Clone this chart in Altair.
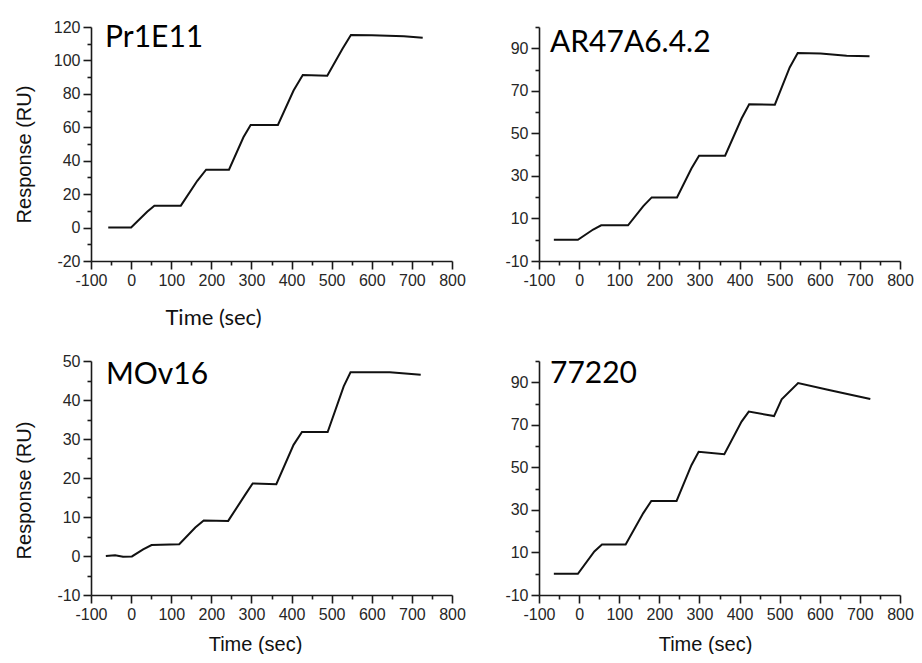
import altair as alt
import pandas as pd

# ---------------- data ----------------
pr1e11_t = [-57, 0, 40, 58, 124, 165, 187, 244, 280, 298, 366, 405, 428, 489, 527, 548, 600, 680, 727]
pr1e11_r = [0, 0, 9.5, 13.1, 13.1, 28, 34.6, 34.6, 54, 61.4, 61.4, 82, 91.3, 90.8, 107, 115.2, 115, 114.5, 113.5]

ar47_t = [-63, -3, 35, 55, 122, 160, 181, 244, 280, 299, 364, 405, 424, 488, 525, 545, 602, 667, 724]
ar47_r = [0, 0, 4.8, 6.8, 6.8, 15.8, 19.9, 19.9, 33.5, 39.5, 39.5, 57, 63.7, 63.5, 81, 87.8, 87.5, 86.5, 86.2]

mov16_t = [-63, -40, -20, 2, 30, 51, 120, 160, 181, 242, 285, 303, 362, 405, 426, 490, 530, 547, 645, 722]
mov16_r = [0, 0.2, -0.2, -0.1, 1.7, 2.8, 3.0, 7.3, 9.1, 9.0, 15.8, 18.6, 18.4, 28.5, 31.8, 31.8, 43.5, 47.1, 47.1, 46.5]

m77220_t = [-63, -3, 38, 57, 116, 160, 180, 243, 280, 298, 362, 405, 423, 486, 505, 546, 620, 680, 726]
m77220_r = [0, 0, 10.5, 13.7, 13.7, 28.5, 34.2, 34.2, 51, 57.3, 56.2, 71.5, 76.2, 74.1, 82, 89.6, 86.5, 84, 82.1]

names = ["Pr1E11", "AR47A6.4.2", "MOv16", "77220"]
x_ticks = list(range(-100, 801, 50))

W, H = 361, 234
AX = "#1a1a1a"


def make_panel(name, t, r, ydom, ystep, label_test, ytitle, xtitle, xtitle_font, xtitle_size,
               xtitle_x, xtitle_y, ytitle_y, lab_x, lab_y):
    df = pd.DataFrame({"t": t, "r": r})
    yvals = list(range(ydom[0], ydom[1] + 1, ystep))
    x_axis = alt.Axis(
        values=x_ticks,
        labelExpr="datum.value % 100 === 0 ? '' + datum.value : ''",
        tickSize={"condition": {"test": "datum.value % 100 === 0", "value": 8}, "value": 4},
        title=xtitle,
        titleFont=xtitle_font,
        titleFontSize=xtitle_size,
        titleX=xtitle_x,
        titleY=xtitle_y,
        labelPadding=3,
        labelFlush=False,
        labelOverlap=False,
    )
    y_axis = alt.Axis(
        values=yvals,
        labelExpr=f"{label_test} ? '' + datum.value : ''",
        tickSize={"condition": {"test": label_test, "value": 8}, "value": 4},
        title=ytitle,
        titleX=-57,
        titleY=ytitle_y,
        labelPadding=3,
        labelFlush=False,
        labelOverlap=False,
    )
    line = alt.Chart(df).mark_line(color="#111111", strokeWidth=2).encode(
        x=alt.X("t:Q", scale=alt.Scale(domain=[-100, 800], nice=False, zero=False), axis=x_axis),
        y=alt.Y("r:Q", scale=alt.Scale(domain=ydom, nice=False, zero=False), axis=y_axis),
    )
    lab = alt.Chart(pd.DataFrame({"label": [name]})).mark_text(
        align="left", baseline="alphabetic", font="Lato", fontSize=30, color="#000000"
    ).encode(x=alt.value(lab_x), y=alt.value(lab_y), text="label:N")
    return alt.layer(line, lab).properties(width=W, height=H)


p1 = make_panel(names[0], pr1e11_t, pr1e11_r, [-20, 120], 10, "datum.value % 20 === 0",
                "Response (RU)", "Time (sec)", "Lato", 22, 122, 46, 127, 14, 20)
p2 = make_panel(names[1], ar47_t, ar47_r, [-10, 100], 10, "(datum.value + 10) % 20 === 0",
                None, None, "Liberation Sans", 20, 180, 46, 117, 11, 25)
p3 = make_panel(names[2], mov16_t, mov16_r, [-10, 50], 5, "datum.value % 10 === 0",
                "Response (RU)", "Time (sec)", "Liberation Sans", 20, 164, 39, 129, 15, 23)
p4 = make_panel(names[3], m77220_t, m77220_r, [-10, 100], 10, "(datum.value + 10) % 20 === 0",
                None, "Time (sec)", "Liberation Sans", 20, 166, 39, 117, 11, 22)

chart = alt.concat(p1, p2, p3, p4, columns=2, spacing={"row": 100, "column": 87}).properties(
    bounds="flush",
    padding={"left": 5, "top": 11, "right": 0, "bottom": 0},
).configure_view(stroke=None).configure_axis(
    grid=False,
    labelFont="Liberation Sans",
    labelFontSize=16,
    labelColor="#262626",
    titleFont="Liberation Sans",
    titleFontSize=20,
    titleFontWeight="normal",
    titleColor="#111111",
    domainColor=AX,
    tickColor=AX,
    domainWidth=1.6,
    tickWidth=1.6,
)

chart.save("out.html", embed_options={"renderer": "svg", "actions": False})
